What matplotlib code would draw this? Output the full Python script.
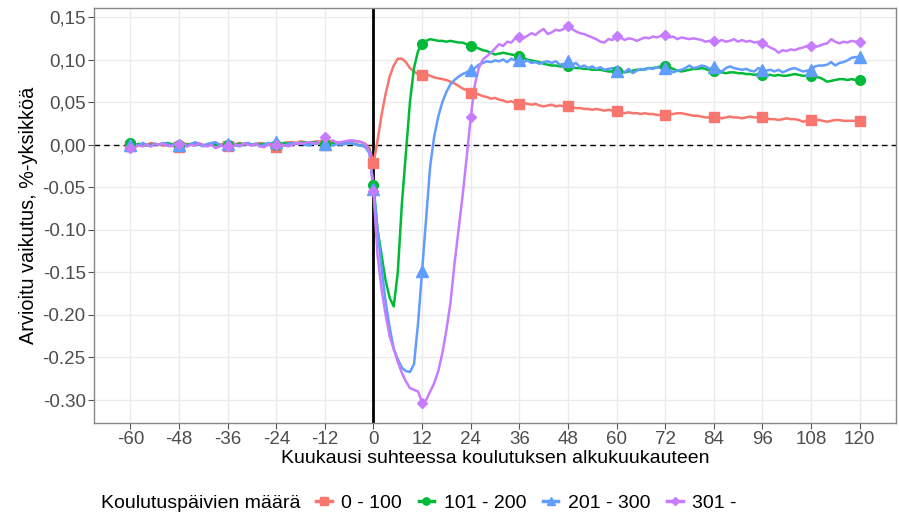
import numpy as np
import matplotlib
matplotlib.use('Agg')
import matplotlib.pyplot as plt

plt.rcParams['font.family'] = ['Liberation Sans', 'DejaVu Sans']

months = list(range(-60, 121))

# 0 - 100
red_pre = [-0.002, 0.000, -0.001, 0.001, 0.000, 0.002, 0.001, 0.000, -0.001, 0.000,
           -0.001, -0.002, -0.003, 0.000, 0.001, 0.000, 0.002, 0.001, 0.000, -0.001,
           0.001, 0.002, 0.000, 0.001, -0.002, 0.000, 0.001, 0.002, 0.001, 0.002,
           0.000, 0.001, 0.002, 0.001, 0.000, -0.001, -0.003, 0.000, 0.002, 0.003,
           0.003, 0.002, 0.004, 0.003, 0.002, 0.003, 0.004, 0.003, 0.000, 0.001,
           0.002, 0.003, 0.002, 0.003, 0.004, 0.004, 0.004, 0.003, 0.001, -0.004]
red_post = [-0.022, 0.005, 0.035, 0.060, 0.080, 0.093, 0.101, 0.101, 0.097, 0.090, 0.086, 0.083, 0.082,
            0.083, 0.081, 0.079, 0.078, 0.077, 0.076, 0.074, 0.072, 0.069, 0.066, 0.064, 0.061,
            0.061, 0.059, 0.057, 0.056, 0.054, 0.055, 0.053, 0.052, 0.050, 0.051, 0.049, 0.048,
            0.049, 0.048, 0.047, 0.048, 0.046, 0.045, 0.046, 0.047, 0.045, 0.046, 0.045, 0.045,
            0.044, 0.043, 0.043, 0.042, 0.042, 0.041, 0.042, 0.041, 0.040, 0.041, 0.040, 0.039,
            0.038, 0.037, 0.038, 0.037, 0.037, 0.036, 0.037, 0.036, 0.036, 0.035, 0.035, 0.035,
            0.036, 0.036, 0.037, 0.037, 0.036, 0.035, 0.034, 0.034, 0.033, 0.032, 0.032, 0.032,
            0.032, 0.031, 0.032, 0.033, 0.032, 0.032, 0.031, 0.032, 0.033, 0.032, 0.032, 0.032,
            0.031, 0.030, 0.030, 0.029, 0.030, 0.031, 0.030, 0.030, 0.029, 0.027, 0.028, 0.029,
            0.029, 0.029, 0.028, 0.027, 0.028, 0.029, 0.029, 0.028, 0.028, 0.028, 0.028, 0.028]

# 101 - 200
green_pre = [0.002, 0.000, 0.001, 0.000, -0.001, 0.000, 0.001, 0.000, 0.001, 0.002,
             0.001, 0.000, 0.000, -0.001, 0.000, 0.001, 0.000, 0.000, -0.001, 0.000,
             0.001, 0.000, -0.001, 0.000, 0.000, -0.001, 0.000, 0.001, 0.000, 0.001,
             0.000, 0.001, 0.000, 0.001, 0.000, 0.001, 0.000, 0.001, 0.002, 0.001,
             0.002, 0.001, 0.002, 0.003, 0.002, 0.003, 0.002, 0.001, 0.001, 0.002,
             0.002, 0.001, 0.001, 0.002, 0.002, 0.001, 0.000, -0.001, -0.002, -0.006]
green_post = [-0.047, -0.100, -0.130, -0.160, -0.180, -0.190, -0.150, -0.070, -0.010, 0.050, 0.090, 0.110, 0.118,
              0.122, 0.124, 0.123, 0.122, 0.122, 0.121, 0.122, 0.121, 0.120, 0.120, 0.118, 0.116,
              0.115, 0.113, 0.111, 0.110, 0.108, 0.106, 0.107, 0.108, 0.107, 0.106, 0.105, 0.104,
              0.102, 0.100, 0.099, 0.098, 0.097, 0.095, 0.094, 0.093, 0.093, 0.092, 0.092, 0.092,
              0.091, 0.090, 0.090, 0.089, 0.089, 0.088, 0.088, 0.088, 0.087, 0.086, 0.086, 0.086,
              0.085, 0.085, 0.086, 0.087, 0.088, 0.088, 0.089, 0.090, 0.090, 0.091, 0.092, 0.093,
              0.091, 0.089, 0.087, 0.086, 0.087, 0.088, 0.089, 0.089, 0.090, 0.089, 0.087, 0.086,
              0.086, 0.085, 0.084, 0.085, 0.085, 0.084, 0.084, 0.083, 0.083, 0.082, 0.083, 0.082,
              0.082, 0.082, 0.081, 0.082, 0.081, 0.081, 0.082, 0.083, 0.082, 0.081, 0.081, 0.081,
              0.080, 0.079, 0.077, 0.074, 0.075, 0.076, 0.077, 0.077, 0.076, 0.077, 0.076, 0.076]

# 201 - 300
blue_pre = [0.000, 0.001, -0.001, 0.002, 0.000, -0.002, 0.001, 0.000, 0.002, 0.001,
            -0.001, 0.002, 0.000, 0.001, -0.002, 0.001, 0.003, 0.000, -0.002, 0.001,
            0.002, 0.003, 0.000, -0.002, 0.001, 0.003, -0.001, -0.002, 0.001, 0.002,
            0.000, 0.001, -0.002, 0.000, 0.002, 0.001, 0.003, 0.000, -0.001, 0.001,
            0.002, 0.001, 0.002, 0.000, -0.001, 0.001, 0.002, 0.002, 0.001, 0.000,
            -0.001, 0.001, 0.000, 0.001, 0.002, 0.001, 0.000, -0.001, -0.003, -0.010]
blue_post = [-0.052, -0.100, -0.145, -0.185, -0.215, -0.240, -0.252, -0.262, -0.266, -0.267, -0.258, -0.210, -0.148,
             -0.085, -0.025, 0.010, 0.033, 0.050, 0.062, 0.071, 0.076, 0.080, 0.083, 0.085, 0.088,
             0.090, 0.094, 0.096, 0.098, 0.097, 0.099, 0.098, 0.100, 0.097, 0.101, 0.099, 0.100,
             0.097, 0.099, 0.096, 0.097, 0.095, 0.097, 0.098, 0.096, 0.098, 0.094, 0.095, 0.098,
             0.094, 0.096, 0.091, 0.093, 0.090, 0.092, 0.089, 0.091, 0.088, 0.089, 0.090, 0.086,
             0.088, 0.085, 0.089, 0.084, 0.087, 0.089, 0.088, 0.090, 0.089, 0.091, 0.090, 0.090,
             0.088, 0.085, 0.087, 0.088, 0.090, 0.093, 0.090, 0.091, 0.093, 0.092, 0.089, 0.091,
             0.088, 0.086, 0.090, 0.092, 0.090, 0.089, 0.088, 0.089, 0.087, 0.086, 0.090, 0.088,
             0.087, 0.088, 0.086, 0.088, 0.085, 0.087, 0.089, 0.090, 0.088, 0.086, 0.087, 0.088,
             0.092, 0.093, 0.093, 0.094, 0.097, 0.093, 0.096, 0.097, 0.099, 0.102, 0.103, 0.103]

# 301 -
purple_pre = [-0.004, -0.003, -0.001, -0.002, 0.000, -0.002, 0.001, 0.000, 0.001, -0.001,
              -0.002, 0.000, 0.001, 0.000, -0.002, 0.000, -0.001, 0.002, -0.001, -0.002,
              0.000, -0.004, -0.002, 0.000, -0.001, 0.001, 0.000, -0.001, 0.001, 0.000,
              -0.001, 0.001, -0.002, -0.003, 0.000, 0.001, 0.000, 0.001, -0.001, -0.002,
              0.000, 0.002, 0.001, 0.002, 0.003, 0.002, 0.001, 0.004, 0.009, 0.004,
              0.005, 0.002, 0.003, 0.004, 0.005, 0.005, 0.004, 0.003, 0.000, -0.008]
purple_post = [-0.055, -0.130, -0.170, -0.200, -0.225, -0.240, -0.255, -0.268, -0.278, -0.286, -0.288, -0.290, -0.303,
               -0.300, -0.290, -0.280, -0.266, -0.245, -0.218, -0.186, -0.140, -0.100, -0.060, -0.015, 0.032,
               0.070, 0.090, 0.100, 0.104, 0.108, 0.113, 0.118, 0.116, 0.121, 0.120, 0.125, 0.126,
               0.125, 0.128, 0.131, 0.129, 0.133, 0.136, 0.130, 0.132, 0.135, 0.134, 0.136, 0.139,
               0.136, 0.133, 0.131, 0.130, 0.128, 0.126, 0.124, 0.121, 0.120, 0.124, 0.123, 0.128,
               0.126, 0.123, 0.125, 0.124, 0.122, 0.124, 0.126, 0.125, 0.127, 0.126, 0.128, 0.129,
               0.126, 0.127, 0.124, 0.126, 0.125, 0.124, 0.125, 0.124, 0.123, 0.121, 0.122, 0.122,
               0.121, 0.123, 0.121, 0.122, 0.124, 0.121, 0.123, 0.121, 0.122, 0.120, 0.121, 0.120,
               0.117, 0.114, 0.112, 0.108, 0.111, 0.110, 0.112, 0.111, 0.113, 0.114, 0.116, 0.116,
               0.115, 0.116, 0.118, 0.119, 0.124, 0.121, 0.119, 0.121, 0.120, 0.122, 0.121, 0.121]

labels = ['0 - 100', '101 - 200', '201 - 300', '301 -']
series = [red_pre + red_post, green_pre + green_post, blue_pre + blue_post, purple_pre + purple_post]
colors = ['#F8766D', '#00BA38', '#619CFF', '#C77CFF']
markers = ['s', 'o', '^', 'D']
msizes = [7, 7, 8, 5.5]

yticks = [-0.30, -0.25, -0.20, -0.15, -0.10, -0.05, 0.00, 0.05, 0.10, 0.15]
ytick_labels = ['-0.30', '-0.25', '-0.20', '-0.15', '-0.10', '-0.05', '0,00', '0,05', '0,10', '0,15']
xticks = list(range(-60, 121, 12))

fig = plt.figure(figsize=(8.99, 5.14), dpi=100)
ax = fig.add_axes([94 / 899, 1 - 423 / 514, (896 - 94) / 899, (423 - 8) / 514])

ax.axhline(0, color='black', lw=1.0, ls=(0, (4, 3)), zorder=1)
ax.axvline(0, color='black', lw=2.0, zorder=1)

x = np.array(months)
handles = []
for y, c, m, ms, lab in zip(series, colors, markers, msizes, labels):
    y = np.array(y)
    ax.plot(x, y, color=c, lw=1.8, zorder=3)
    sel = (x % 12 == 0)
    ax.plot(x[sel], y[sel], ls='none', marker=m, color=c, ms=ms, zorder=4)
    h, = ax.plot([], [], color=c, lw=2.5, marker=m, ms=ms * 0.75, label=lab)
    handles.append(h)

ax.set_xlim(-69, 129)
ax.set_ylim(-0.327, 0.1606)
ax.set_xticks(xticks)
ax.set_xticklabels([str(v) for v in xticks])
ax.set_yticks(yticks)
ax.set_yticklabels(ytick_labels)
ax.grid(True, color='#EBEBEB', lw=1.0, zorder=0)
ax.set_axisbelow(True)
for s in ax.spines.values():
    s.set_color('#888888')
    s.set_linewidth(1.0)
ax.tick_params(colors='#555555', labelcolor='#4D4D4D', labelsize=13.5, length=4, pad=2)

ax.set_xlabel('Kuukausi suhteessa koulutuksen alkukuukauteen', fontsize=14, labelpad=1)
ax.set_ylabel('Arvioitu vaikutus, %-yksikköä', fontsize=14.3, labelpad=3)

fig.text(101 / 899, 1 - 504 / 514, 'Koulutuspäivien määrä', fontsize=14, va='center', ha='left')
fig.legend(handles=handles, loc='center left', bbox_to_anchor=(316 / 899, 1 - 503 / 514),
           ncol=4, frameon=False, fontsize=14, handlelength=0.8, handletextpad=0.5,
           columnspacing=0.85, borderpad=0, borderaxespad=0)

fig.savefig('out.png', dpi=100)
